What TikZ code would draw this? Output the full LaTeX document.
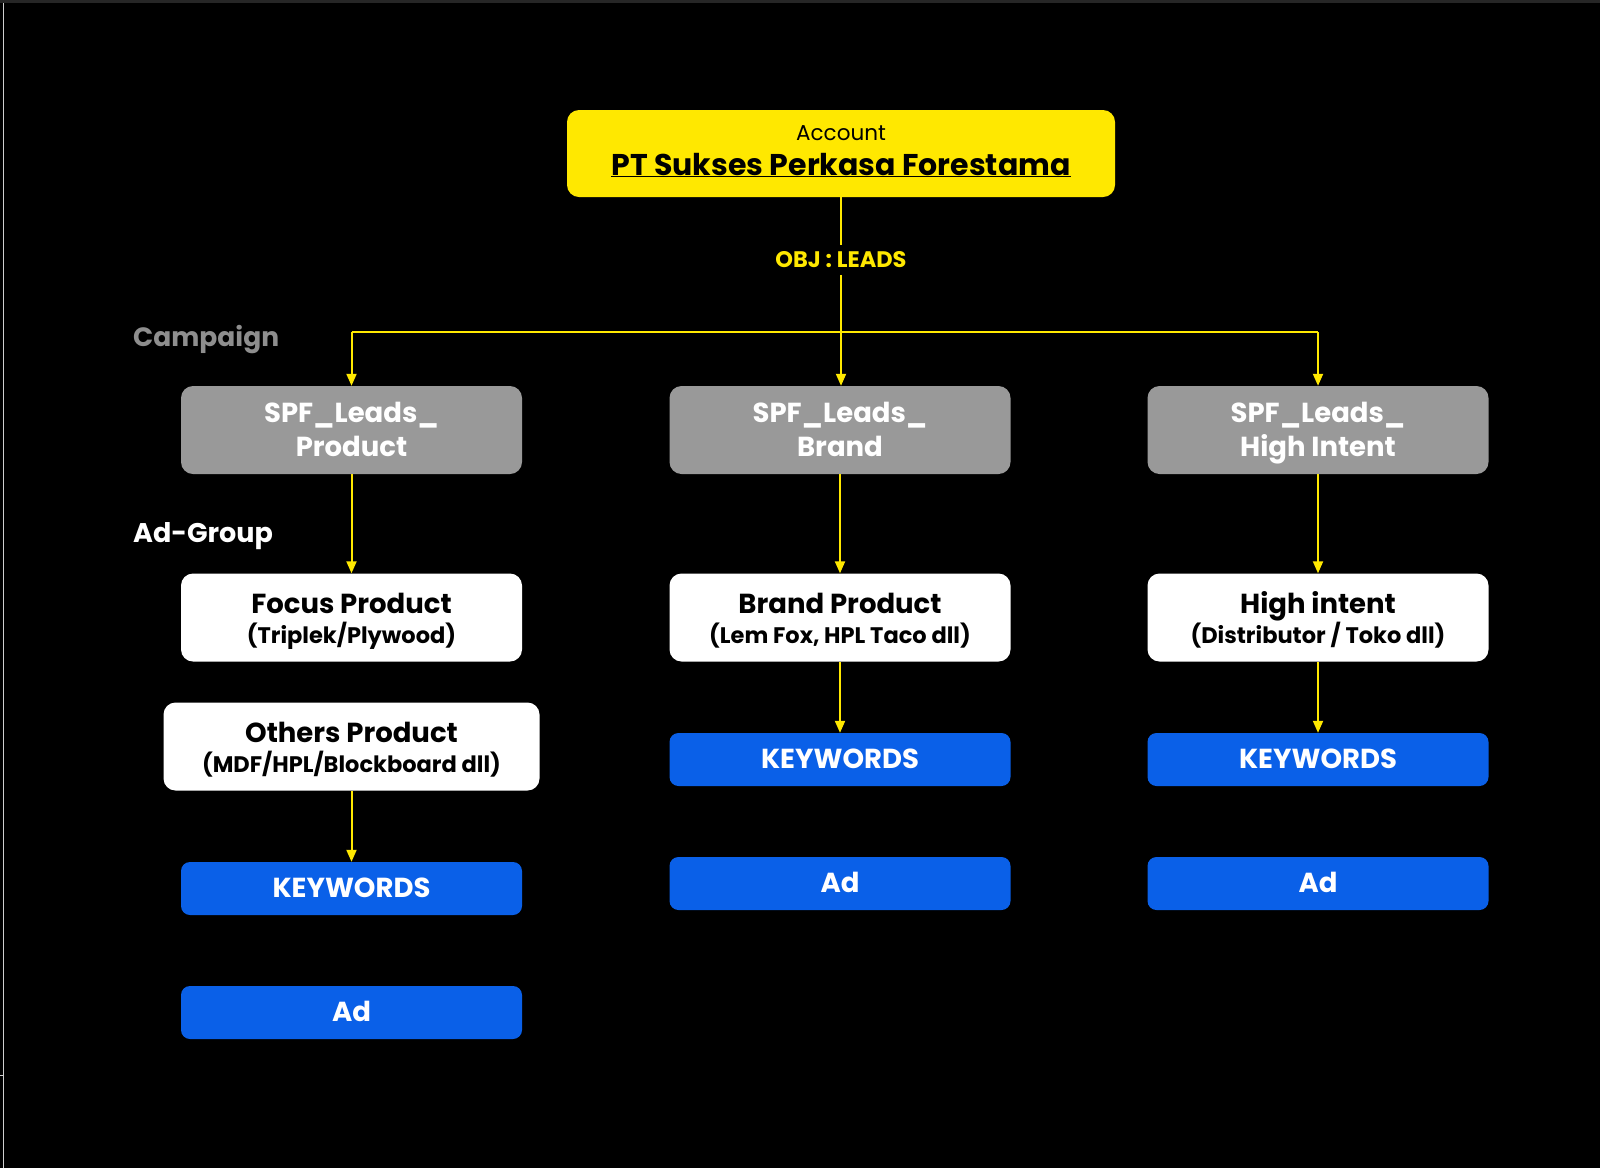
\documentclass[tikz,border=0pt]{standalone}
\usepackage{fontspec}
\setmainfont{Poppins}
\usetikzlibrary{arrows.meta}
\definecolor{yel}{HTML}{FFE800}
\definecolor{gbox}{HTML}{999999}
\definecolor{bbox}{HTML}{0A60E8}
\definecolor{camp}{HTML}{8E8E8E}
\definecolor{edge}{HTML}{CFCFCF}
\definecolor{topband}{HTML}{262626}
\begin{document}
\begin{tikzpicture}[x=1pt,y=-1pt,
  box/.style={rounded corners=12pt, minimum width=341pt, minimum height=88pt, inner sep=0pt},
  graybox/.style={box, fill=gbox},
  whitebox/.style={box, fill=white},
  bluebox/.style={rounded corners=9pt, minimum width=341pt, minimum height=53pt, inner sep=0pt, fill=bbox, text=white, text height=18pt, text depth=0pt, font=\bfseries\fontsize{27.5}{32}\selectfont},
  arr/.style={draw=yel, line width=2pt, -{Triangle[width=10pt,length=12pt]}},
  ln/.style={draw=yel, line width=2pt},
  txt/.style={inner sep=0pt, anchor=base},
  gtxt/.style={txt, text=white, font=\bfseries\fontsize{27.5}{32}\selectfont},
  ttl/.style={txt, text=black, font=\bfseries\fontsize{27.5}{32}\selectfont},
  sub/.style={txt, text=black, font=\bfseries\fontsize{22.5}{28}\selectfont}
]
\fill[black] (0,0) rectangle (1600,1168);
\useasboundingbox (0,0) rectangle (1600,1168);
\fill[topband] (0,0) rectangle (1600,3);
\draw[edge, line width=1.2pt] (3.5,3) -- (3.5,1168);
\draw[edge, line width=1pt] (0,1075) -- (3.5,1075);

% top account box
\node[rounded corners=12pt, minimum width=548pt, minimum height=87pt, inner sep=0pt, fill=yel] (acc) at (841,153.5) {};
\node[txt, font=\fontsize{21.5}{26}\selectfont] (acct) at (841,140.7) {Account};
\node[txt, font=\bfseries\fontsize{30}{34}\selectfont] (accn) at (841,175) {\underline{PT Sukses Perkasa Forestama}};

\node[text=yel, font=\bfseries\fontsize{22.5}{26}\selectfont, inner xsep=4pt, inner ysep=7pt, text height=16pt, text depth=0pt] (obj) at (841,259.7) {OBJ : LEADS};

\node[txt, anchor=base west, text=camp, font=\bfseries\fontsize{26.5}{32}\selectfont] (camp) at (133,346.7) {Campaign};
\node[txt, anchor=base west, text=white, font=\bfseries\fontsize{27}{32}\selectfont] (adg) at (133,542.7) {Ad-Group};

% campaigns
\node[graybox] (g1) at (351.5,430) {};
\node[graybox] (g2) at (840,430) {};
\node[graybox] (g3) at (1318,430) {};
\node[gtxt] (g1a) at (351.5,422.7) {SPF\_Leads\_};
\node[gtxt] (g1b) at (351.5,456.7) {Product};
\node[gtxt] (g2a) at (840,422.7) {SPF\_Leads\_};
\node[gtxt] (g2b) at (840,456.7) {Brand};
\node[gtxt] (g3a) at (1318,422.7) {SPF\_Leads\_};
\node[gtxt] (g3b) at (1318,456.7) {High Intent};

% ad groups
\node[whitebox] (w1) at (351.5,617.5) {};
\node[whitebox, minimum width=376pt] (w1b) at (351.5,746.5) {};
\node[whitebox] (w2) at (840,617.5) {};
\node[whitebox] (w3) at (1318,617.5) {};
\node[ttl] (w1t) at (351.5,613) {Focus Product};
\node[sub] (w1s) at (351.5,643.7) {(Triplek/Plywood)};
\node[ttl] (w1bt) at (351.5,742) {Others Product};
\node[sub] (w1bs) at (351.5,772.7) {(MDF/HPL/Blockboard dll)};
\node[ttl] (w2t) at (840,613) {Brand Product};
\node[sub] (w2s) at (840,643.7) {(Lem Fox, HPL Taco dll)};
\node[ttl] (w3t) at (1318,613) {High intent};
\node[sub] (w3s) at (1318,643.7) {(Distributor / Toko dll)};

% keywords and ads
\node[bluebox] (k1) at (351.5,888.5) {KEYWORDS};
\node[bluebox] (a1) at (351.5,1012.5) {Ad};
\node[bluebox] (k2) at (840,759.5) {KEYWORDS};
\node[bluebox] (a2) at (840,883.5) {Ad};
\node[bluebox] (k3) at (1318,759.5) {KEYWORDS};
\node[bluebox] (a3) at (1318,883.5) {Ad};

% connectors
\coordinate (hl) at (351.5,332);
\coordinate (hr) at (1318,332);
\draw[ln] (acc.south) -- (obj.north);
\draw[arr] (obj.south) -- (g2.north -| obj.south);
\draw[ln] (hl) -- (hr);
\draw[arr] (hl) -- (g1.north);
\draw[arr] (hr) -- (g3.north);
\draw[arr] (g1.south) -- (w1.north);
\draw[arr] (g2.south) -- (w2.north);
\draw[arr] (g3.south) -- (w3.north);
\draw[arr] (w1b.south) -- (k1.north);
\draw[arr] (w2.south) -- (k2.north);
\draw[arr] (w3.south) -- (k3.north);
\end{tikzpicture}
\end{document}
